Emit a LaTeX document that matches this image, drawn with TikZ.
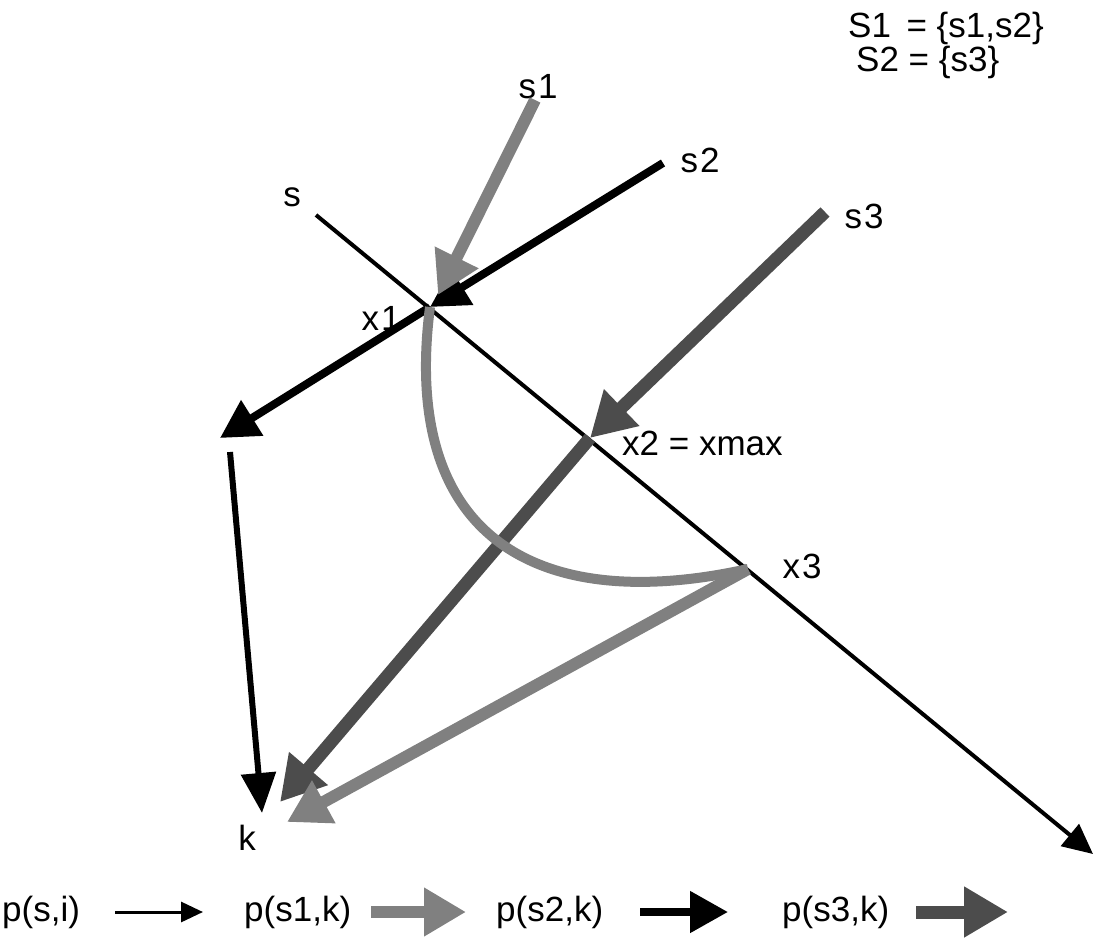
\documentclass[tikz,border=0pt]{standalone}
\usepackage{fontspec}
\setmainfont{Liberation Sans}
\usetikzlibrary{arrows.meta}

\definecolor{lightdot}{gray}{0.5}
\definecolor{darkdot}{gray}{0.3}

\tikzset{
  lbl/.style={inner sep=0pt, font=\fontsize{35}{40}\selectfont},
  sline/.style={line width=4pt, -{Triangle[length=30pt,width=28pt]}},
  blkline/.style={line width=8pt, -{Triangle[length=38pt,width=40pt]}},
  blkthin/.style={line width=6pt, -{Triangle[length=40pt,width=34pt]}},
  litline/.style={lightdot, line width=12pt, -{Triangle[length=42pt,width=46pt]}},
  drkline/.style={darkdot, line width=13pt, -{Triangle[length=44pt,width=48pt]}},
}

\begin{document}
\begin{tikzpicture}[x=1pt, y=-1pt]
  \useasboundingbox (0,0) rectangle (1097,942);

  % sets
  \node[lbl, anchor=west] (set1) at (848,28) {S1 \,= \{s1,s2\}};
  \node[lbl, anchor=west] (set2) at (856,62) {S2 = \{s3\}};

  % sources and points
  \coordinate (s0) at (316,215);
  \coordinate (s1) at (535,100);
  \coordinate (s2) at (663,163);
  \coordinate (s3) at (825,212);
  \coordinate (x1) at (430,307);
  \coordinate (x2) at (590,438);
  \coordinate (x3) at (748,569);
  \coordinate (sEnd) at (1093,854);
  \coordinate (left) at (220,438);
  \coordinate (down) at (230,452);
  \coordinate (kBlk) at (262,813);
  \coordinate (kDrk) at (280,802);
  \coordinate (kLit) at (287,822);
  \coordinate (s1Tip) at (438,295);

  \node[lbl] (ls) at (292,197) {s};
  \node[lbl] (ls1) at (538,87) {s\kern2pt1};
  \node[lbl] (ls2) at (700,160) {s\kern2pt2};
  \node[lbl] (ls3) at (864,216) {s\kern2pt3};
  \node[lbl] (lx1) at (381,318) {x\kern2pt1};
  \node[lbl, anchor=west] (lx2) at (622,443) {x2 = xmax};
  \node[lbl] (lx3) at (802,566) {x\kern2pt3};
  \node[lbl] (lk) at (247,838) {k};

  % p(s,i)
  \draw[sline] (s0) -- (sEnd);

  % p(s2,k)
  \draw[blkline] (s2) -- (x1);
  \draw[blkline] (x1) -- (left);
  \draw[blkthin] (down) -- (kBlk);

  % p(s3,k)
  \draw[drkline] (s3) -- (x2);
  \draw[drkline] (x2) -- (kDrk);

  % p(s1,k)
  \draw[litline] (s1) -- (s1Tip);
  \draw[lightdot, line width=10pt] (x1) .. controls (400,540) and (540,615) .. (x3);
  \draw[litline] (x3) -- (kLit);

  % legend
  \node[lbl, anchor=west] (p0) at (2,912) {p(s,i)};
  \node[lbl, anchor=west] (p1) at (244,912) {p(s1,k)};
  \node[lbl, anchor=west] (p2) at (496,912) {p(s2,k)};
  \node[lbl, anchor=west] (p3) at (782,912) {p(s3,k)};
  \coordinate (a0) at (115,912);
  \coordinate (b0) at (203,912);
  \coordinate (a1) at (371,912);
  \coordinate (b1) at (466,912);
  \coordinate (a2) at (640,912);
  \coordinate (b2) at (728,912);
  \coordinate (a3) at (916,912);
  \coordinate (b3) at (1008,912);
  \draw[line width=3pt, -{Triangle[length=22pt,width=20pt]}] (a0) -- (b0);
  \draw[litline] (a1) -- (b1);
  \draw[blkline] (a2) -- (b2);
  \draw[drkline] (a3) -- (b3);
\end{tikzpicture}
\end{document}
